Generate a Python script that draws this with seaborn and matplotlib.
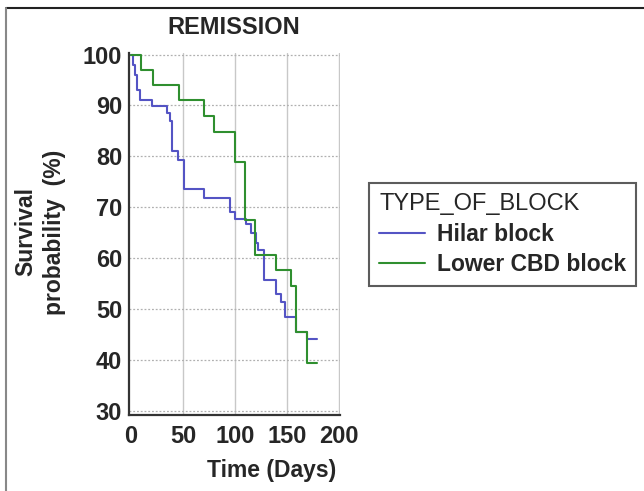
import numpy as np
import pandas as pd
import seaborn as sns
import matplotlib.pyplot as plt
from matplotlib.lines import Line2D
from matplotlib.ticker import MultipleLocator

# -----------------------------
# data (days, survival %)
# -----------------------------
hilar_days = [0, 2, 4, 6, 9, 20, 35, 37, 39, 45, 51, 70, 95, 100, 111, 115,
              120, 122, 128, 139, 144, 148, 159, 169, 179]
hilar_surv = [100, 98, 96, 93, 91, 89.8, 88.5, 87, 81, 79.2, 73.5, 71.8, 69,
              67.6, 66.8, 65, 63, 61.6, 55.7, 53, 51.4, 48.4, 45.5, 44.2, 44.2]

cbd_days = [0, 10, 21, 46, 70, 80, 100, 110, 119, 139, 154, 159, 169, 179]
cbd_surv = [100, 97, 94, 91, 88, 84.8, 78.8, 67.5, 60.6, 57.6, 54.5, 45.5,
            39.4, 39.4]

groups = ["Hilar block", "Lower CBD block"]
colors = ["#5454c4", "#2f8f2f"]

df = pd.concat([
    pd.DataFrame({"days": hilar_days, "surv": hilar_surv, "group": groups[0]}),
    pd.DataFrame({"days": cbd_days, "surv": cbd_surv, "group": groups[1]}),
], ignore_index=True)

# -----------------------------
# figure
# -----------------------------
sns.set_theme(style="white")
plt.rcParams["font.family"] = ["Liberation Sans", "DejaVu Sans"]

fig = plt.figure(figsize=(6.44, 4.91), dpi=100)
ax = fig.add_axes([129 / 644, 1 - 415 / 491, 211 / 644, 362 / 491])

sns.lineplot(data=df, x="days", y="surv", hue="group", palette=colors,
             estimator=None, sort=False, drawstyle="steps-post",
             linewidth=1.5, legend=False, ax=ax)

ax.set_xlim(-2, 201)
ax.set_ylim(29.2, 100.3)
ax.set_xticks([0, 50, 100, 150, 200])
ax.set_yticks(np.arange(30, 101, 10))
ax.yaxis.set_minor_locator(MultipleLocator(5))

# grid: solid verticals, dotted horizontals
for xv in [50, 100, 150, 200]:
    ax.axvline(xv, color="#c8c8c8", lw=1, zorder=0)
for yv in range(30, 101, 10):
    ax.axhline(yv, color="#b0b0b0", lw=0.9, ls=(0, (1.5, 1.5)), zorder=0)

for s in ["top", "right"]:
    ax.spines[s].set_visible(False)
for s in ["left", "bottom"]:
    ax.spines[s].set_color("#333333")
    ax.spines[s].set_linewidth(1.6)

ax.tick_params(axis="both", which="both", direction="in", color="#333333",
               width=1, labelsize=17)
ax.tick_params(axis="both", which="major", length=4)
ax.tick_params(axis="y", which="minor", length=3)
ax.tick_params(axis="y", pad=5)
ax.tick_params(axis="x", pad=7)
for lab in ax.get_xticklabels() + ax.get_yticklabels():
    lab.set_fontweight("bold")

ax.set_xlabel("")
ax.set_ylabel("")
fig.text(272 / 644, 1 - 470 / 491, "Time (Days)", ha="center", va="center",
         fontsize=16.5, fontweight="bold")
fig.text(40 / 644, 1 - 232 / 491, "Survival\nprobability  (%)", rotation=90,
         ha="center", va="center", fontsize=16.5, fontweight="bold",
         linespacing=1.3, multialignment="center")
fig.text(234 / 644, 1 - 28 / 491, "REMISSION", ha="center", va="center",
         fontsize=17, fontweight="bold")

handles = [Line2D([0], [0], color=c, lw=1.5) for c in colors]
leg = fig.legend(handles, groups, title="TYPE_OF_BLOCK", loc="upper left",
                 bbox_to_anchor=(369 / 644, 1 - 183 / 491), borderaxespad=0,
                 fontsize=16.5, title_fontsize=17, frameon=True, fancybox=False,
                 handlelength=2.0, handletextpad=0.5, labelspacing=0.32,
                 borderpad=0.45, alignment="left")
leg.get_frame().set_edgecolor("#333333")
leg.get_frame().set_linewidth(1.5)
leg.get_title().set_fontweight("medium")
for t in leg.get_texts():
    t.set_fontweight("bold")

# outer frame of the picture
fig.add_artist(Line2D([6 / 644, 1], [1 - 8 / 491, 1 - 8 / 491],
                      transform=fig.transFigure, color="#222222", lw=1.5))
fig.add_artist(Line2D([6 / 644, 6 / 644], [0, 1 - 8 / 491],
                      transform=fig.transFigure, color="#888888", lw=1.5))

fig.savefig("out.png", dpi=100)
